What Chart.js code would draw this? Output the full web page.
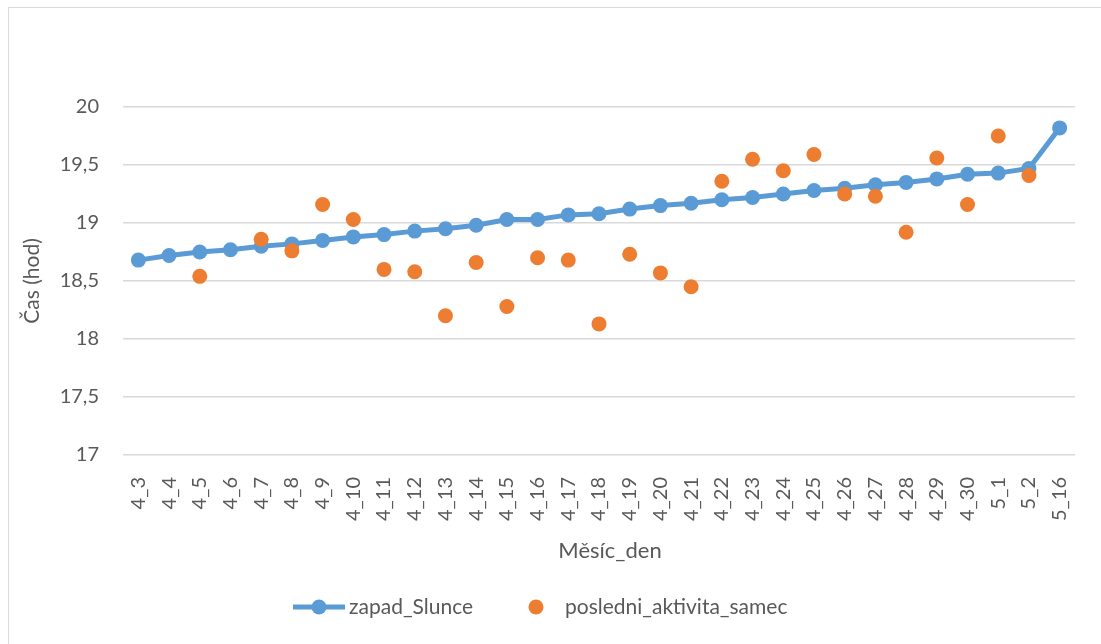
<!DOCTYPE html>
<html>
<head>
<meta charset="utf-8">
<script src="https://cdn.jsdelivr.net/npm/chart.js@4"></script>
<style>
  html, body { margin: 0; padding: 0; background: #fff; overflow: hidden; }
  #wrap { position: relative; width: 1101px; height: 644px; }
  #frame { position: absolute; left: 8px; top: 7px; width: 1200px; height: 700px; border: 1px solid #d9d9d9; }
  #graf { position: absolute; left: 0; top: 0; }
</style>
</head>
<body>
<div id="wrap">
  <div id="frame"></div>
  <canvas id="graf" width="1101" height="644"></canvas>
</div>
<script>
// dny pozorovani
const dny = [
    "4_3", "4_4", "4_5", "4_6", "4_7", "4_8", "4_9", "4_10", "4_11", "4_12",
    "4_13", "4_14", "4_15", "4_16", "4_17", "4_18", "4_19", "4_20", "4_21", "4_22",
    "4_23", "4_24", "4_25", "4_26", "4_27", "4_28", "4_29", "4_30", "5_1", "5_2", "5_16"
];

// cas zapadu slunce (hod)
const zapadSlunce = [
    18.68, 18.72, 18.75, 18.77, 18.80, 18.82, 18.85, 18.88, 18.90, 18.93,
    18.95, 18.98, 19.03, 19.03, 19.07, 19.08, 19.12, 19.15, 19.17, 19.20,
    19.22, 19.25, 19.28, 19.30, 19.33, 19.35, 19.38, 19.42, 19.43, 19.47, 19.82
];

// posledni zaznamenana aktivita samce (hod), null = bez zaznamu
const posledniAktivita = [
    null, null, 18.54, null, 18.86, 18.76, 19.16, 19.03, 18.60, 18.58,
    18.20, 18.66, 18.28, 18.70, 18.68, 18.13, 18.73, 18.57, 18.45, 19.36,
    19.55, 19.45, 19.59, 19.25, 19.23, 18.92, 19.56, 19.16, 19.75, 19.41, null
];

const osaY = [17, 17.5, 18, 18.5, 19, 19.5, 20];

const MODRA = "#5b9bd5";
const ORANZOVA = "#ed7d31";
const SEDA_TEXT = "#595959";
const PISMO = "Lato, 'Open Sans', sans-serif";

Chart.defaults.font.family = PISMO;
Chart.defaults.color = SEDA_TEXT;

// popisek osy x a legenda kreslene rucne
const popiskyPlugin = {
    id: "popisky",
    afterDraw(chart) {
        const ctx = chart.ctx;
        ctx.save();
        ctx.fillStyle = SEDA_TEXT;
        ctx.textBaseline = "middle";
        ctx.textAlign = "center";
        ctx.font = "22px " + PISMO;
        ctx.fillText("Měsíc_den", 610, 551);

        // legenda
        const ly = 607;
        ctx.font = "21px " + PISMO;
        ctx.strokeStyle = MODRA;
        ctx.lineWidth = 5;
        ctx.beginPath();
        ctx.moveTo(293, ly);
        ctx.lineTo(345, ly);
        ctx.stroke();
        ctx.fillStyle = MODRA;
        ctx.beginPath();
        ctx.arc(319, ly, 7.5, 0, Math.PI * 2);
        ctx.fill();

        ctx.fillStyle = SEDA_TEXT;
        ctx.textAlign = "left";
        ctx.fillText("zapad_Slunce", 349, ly);

        ctx.fillStyle = ORANZOVA;
        ctx.beginPath();
        ctx.arc(536, ly, 7.5, 0, Math.PI * 2);
        ctx.fill();

        ctx.fillStyle = SEDA_TEXT;
        ctx.fillText("posledni_aktivita_samec", 565, ly);
        ctx.restore();
    }
};

new Chart(document.getElementById("graf").getContext("2d"), {
    type: "line",
    data: {
        labels: dny,
        datasets: [
            {
                label: "zapad_Slunce",
                data: zapadSlunce,
                borderColor: MODRA,
                backgroundColor: MODRA,
                borderWidth: 5,
                pointRadius: 7.5,
                pointBorderWidth: 0,
                pointBackgroundColor: MODRA,
                tension: 0,
                order: 1
            },
            {
                label: "posledni_aktivita_samec",
                data: posledniAktivita,
                showLine: false,
                borderColor: ORANZOVA,
                backgroundColor: ORANZOVA,
                pointRadius: 7.5,
                pointBorderWidth: 0,
                pointBackgroundColor: ORANZOVA,
                order: 0
            }
        ]
    },
    options: {
        responsive: false,
        animation: false,
        layout: { padding: { left: 9, right: 26, top: 107, bottom: 39 } },
        plugins: {
            legend: { display: false },
            tooltip: { enabled: false }
        },
        scales: {
            x: {
                offset: true,
                grid: { display: false },
                border: { display: false },
                ticks: {
                    autoSkip: false,
                    minRotation: 90,
                    maxRotation: 90,
                    padding: 14,
                    font: { size: 20 },
                    color: SEDA_TEXT
                },
                afterFit(scale) { scale.height = 150; }
            },
            y: {
                min: 17,
                max: 20,
                afterBuildTicks(scale) {
                    scale.ticks = osaY.map(v => ({ value: v }));
                },
                grid: { color: "#d9d9d9", lineWidth: 1.5, drawTicks: false },
                border: { display: false },
                ticks: {
                    padding: 24,
                    font: { size: 20 },
                    color: SEDA_TEXT,
                    callback: v => String(v).replace(".", ",")
                },
                title: {
                    display: true,
                    text: "Čas (hod)",
                    font: { size: 21 },
                    color: SEDA_TEXT,
                    padding: { top: 11, bottom: 0 }
                },
                afterFit(scale) { scale.width = 114; }
            }
        }
    },
    plugins: [popiskyPlugin]
});
</script>
</body>
</html>
